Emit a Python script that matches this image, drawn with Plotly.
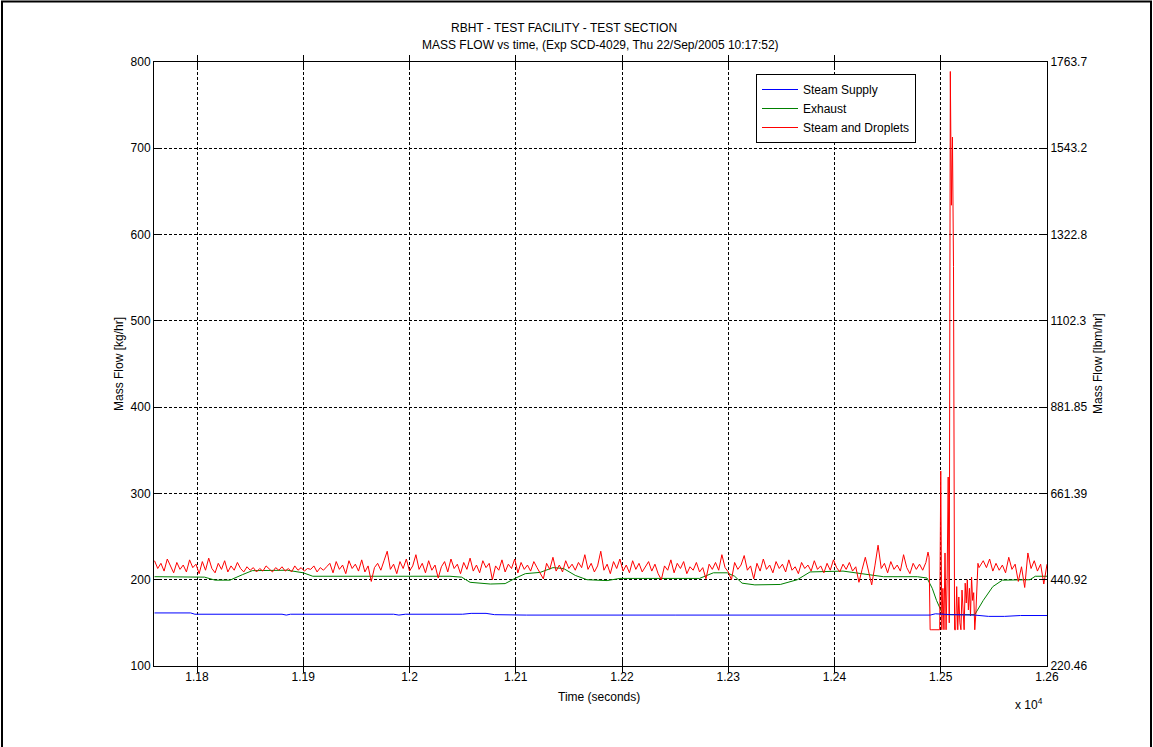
"""RBHT test section mass flow vs time (MATLAB style figure)."""

import numpy as np
import plotly.graph_objects as go

# ---- data -------------------------------------------------------------------
# Steam supply (blue), slow drift only
steam_time = [11760, 11794, 11798, 11880, 11884, 11888, 11985, 11990, 11996,
              12050, 12058, 12072, 12080, 12110, 12250, 12400, 12490, 12495,
              12510, 12532, 12545, 12560, 12575, 12600]
steam_flow = [161.5, 161.5, 160.0, 160.0, 159.0, 160.0, 160.0, 159.0, 160.0,
              160.0, 161.0, 161.0, 159.5, 159.0, 159.0, 159.0, 159.0, 160.5,
              159.5, 159.0, 157.5, 157.5, 158.5, 158.5]

# Exhaust (green), smoothed signal
exhaust_time = [11760, 11807, 11817, 11831, 11843, 11852, 11885, 11900, 11909,
                12038, 12049, 12057, 12076, 12090, 12100, 12109, 12123, 12135,
                12145, 12156, 12167, 12186, 12198, 12273, 12286, 12299, 12306,
                12313, 12325, 12349, 12365, 12377, 12408, 12427, 12446, 12478,
                12487, 12492, 12496, 12502, 12532, 12540, 12549, 12558, 12584,
                12589, 12600]
exhaust_flow = [203.5, 203.0, 199.5, 199.5, 206.0, 210.5, 211.0, 208.0, 204.0,
                204.0, 203.0, 197.0, 195.0, 195.5, 202.0, 207.0, 208.5, 214.0,
                213.0, 205.0, 200.0, 199.0, 201.5, 201.5, 208.0, 208.0, 204.0,
                196.0, 194.0, 194.5, 200.0, 209.0, 210.0, 207.0, 203.5, 203.5,
                202.0, 190.0, 176.0, 159.5, 159.5, 176.0, 192.0, 199.5, 200.0,
                204.0, 204.0]

# Steam and droplets (red): 3 s samples, 1 s samples through the burst
droplet_time = np.concatenate([
    np.arange(11760, 12488, 3),
    np.arange(12488, 12537, 1),
    np.arange(12537, 12601, 3),
])
droplet_before = [
    222, 213, 219, 210, 224, 215, 208, 220, 212, 217,
    209, 223, 214, 218, 207, 221, 211, 225, 213, 208,
    219, 212, 222, 209, 216, 211, 220, 213, 209, 215,
    211, 214, 209, 213, 210, 216, 212, 209, 214, 211,
    215, 210, 213, 209, 216, 211, 214, 210, 213, 212,
    216, 209, 214, 211, 215, 219, 208, 221, 212, 217,
    207, 222, 213, 218, 210, 223, 209, 216, 198, 214,
    219, 211, 222, 233, 212, 218, 207, 221, 213, 224,
    210, 216, 229, 212, 219, 208, 222, 211, 217, 202,
    215, 221, 209, 224, 213, 218, 207, 220, 212, 225,
    210, 217, 208, 222, 214, 219, 200, 216, 211, 223,
    209, 218, 213, 224, 208, 220, 212, 217, 210, 221,
    214, 208, 201, 219, 212, 226, 210, 217, 209, 222,
    213, 218, 211, 220, 214, 229, 212, 219, 209, 216,
    233, 211, 218, 207, 221, 213, 224, 210, 217, 208,
    222, 212, 219, 209, 215, 221, 210, 218, 207, 200,
    216, 211, 223, 208, 219, 213, 221, 207, 215, 211,
    220, 209, 214, 201, 218, 212, 220, 211, 229, 214,
    209, 200, 220, 212, 217, 228, 211, 216, 201, 219,
    210, 224, 212, 217, 208, 221, 213, 218, 209, 223,
    211, 215, 207, 220, 213, 217, 210, 222, 212, 216,
    208, 219, 211, 223, 214, 209, 218, 212, 220, 210,
    215, 197, 212, 226, 210, 194, 216, 240, 213, 219,
    208, 221, 212, 217, 210, 229, 214, 207, 219, 212,
    218, 211, 220,
]
droplet_burst = [
    232, 226, 142, 142, 142, 142, 142, 142, 142, 142, 142, 142,
    326, 142, 190, 142, 231, 142, 200, 319, 150, 789,
    634, 713, 563, 142, 142, 192, 142, 180, 150, 142,
    188, 160, 142, 196, 173, 200, 165, 190, 158, 203,
    176, 185, 142, 160, 200, 219, 214,
]
droplet_after = [216, 222, 214, 224, 210, 219, 211, 217, 208, 226, 212,
                 218, 198, 215, 191, 231, 213, 222, 210, 218, 195, 218]
droplet_flow = droplet_before + droplet_burst + droplet_after

# axis ticks
time_ticks = [11800, 11900, 12000, 12100, 12200, 12300, 12400, 12500, 12600]
time_labels = ["1.18", "1.19", "1.2", "1.21", "1.22", "1.23", "1.24", "1.25", "1.26"]
kg_ticks = [100, 200, 300, 400, 500, 600, 700, 800]
lbm_labels = ["220.46", "440.92", "661.39", "881.85", "1102.3", "1322.8",
              "1543.2", "1763.7"]

# ---- figure -------------------------------------------------------------------
FONT = "Liberation Sans, Arial, sans-serif"
W, H = 1153, 747
L, R, T, B = 154, 106, 62, 81
pw, ph = W - L - R, H - T - B


def px_x(x):
    return (x - L) / pw


def px_y(y):
    return (H - B - y) / ph


fig = go.Figure()
# steam supply sits on the right-hand axis (same scale) so that axis gets drawn
fig.add_trace(go.Scatter(x=steam_time, y=steam_flow, mode="lines", yaxis="y2",
                         name="Steam Supply", line=dict(color="#0000ff", width=1)))
fig.add_trace(go.Scatter(x=exhaust_time, y=exhaust_flow, mode="lines",
                         name="Exhaust", line=dict(color="#008000", width=1)))
fig.add_trace(go.Scatter(x=droplet_time, y=droplet_flow, mode="lines",
                         name="Steam and Droplets", line=dict(color="#ff0000", width=1)))

grid = dict(showgrid=True, gridcolor="black", gridwidth=1, griddash="3px,2px")

fig.update_layout(
    width=W, height=H,
    margin=dict(l=L, r=R, t=T, b=B, pad=0),
    paper_bgcolor="white", plot_bgcolor="white",
    font=dict(family=FONT, size=12, color="black"),
    showlegend=True,
    legend=dict(x=px_x(756), y=px_y(74), xanchor="left", yanchor="top",
                bgcolor="white", bordercolor="black", borderwidth=1,
                font=dict(size=12), tracegroupgap=0, itemwidth=36),
    xaxis=dict(range=[11759.5, 12600], tickvals=time_ticks, ticktext=time_labels,
               ticks="inside", ticklen=6, tickcolor="black", showline=True,
               linecolor="black", linewidth=1, mirror="allticks", zeroline=False,
               **grid),
    yaxis=dict(range=[100, 800], tickvals=kg_ticks, ticks="inside", ticklen=6,
               tickcolor="black", showline=True, linecolor="black", linewidth=1,
               mirror=True, zeroline=False, **grid),
    yaxis2=dict(range=[100, 800], overlaying="y", side="right", tickvals=kg_ticks,
                ticktext=lbm_labels, ticks="inside", ticklen=6, tickcolor="black",
                showline=True, linecolor="black", showgrid=False, zeroline=False),
)

notes = [
    ("RBHT - TEST FACILITY - TEST SECTION", 564, 28, 0),
    ("MASS FLOW vs time, (Exp SCD-4029, Thu 22/Sep/2005 10:17:52)", 600, 45, 0),
    ("Time (seconds)", 599, 697, 0),
    ("x 10<sup>4</sup>", 1029, 704, 0),
    ("Mass Flow [kg/hr]", 119, 364, -90),
    ("Mass Flow [lbm/hr]", 1098, 364, -90),
]
for text, x, y, ang in notes:
    fig.add_annotation(text=text, x=px_x(x), y=px_y(y), xref="paper", yref="paper",
                       showarrow=False, textangle=ang, xanchor="center",
                       yanchor="middle", font=dict(size=12, family=FONT))

# outer frame of the figure window
fig.add_shape(type="rect", xref="paper", yref="paper",
              x0=px_x(2), x1=px_x(1151), y0=px_y(760), y1=px_y(1.5),
              line=dict(color="black", width=2), fillcolor="rgba(0,0,0,0)")

# drop the browser's default 8px body margin so the figure sits at 0,0
fig.write_html("out.html", config={"displayModeBar": False},
               post_script="document.body.style.margin='0';")
